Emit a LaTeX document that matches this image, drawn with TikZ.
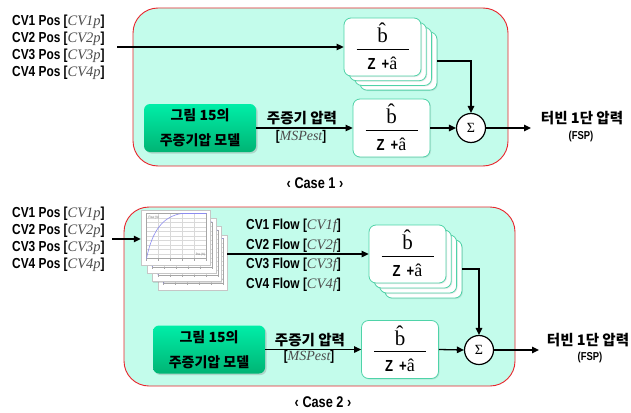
\documentclass[tikz,border=0pt]{standalone}
\usepackage{fontspec}
\setmainfont{Liberation Sans}[FakeStretch=0.82]
\newfontfamily\kr{Noto Sans CJK KR}
\newfontfamily\scr{Liberation Serif}
\usetikzlibrary{arrows.meta,shadows}

\definecolor{panelfill}{HTML}{C3FCEB}
\definecolor{paneledge}{HTML}{E8252C}
\definecolor{boxedge}{HTML}{4FD3A8}
\definecolor{gtop}{HTML}{00EEA8}
\definecolor{gbot}{HTML}{00B474}
\definecolor{curve}{HTML}{8C8CF0}

\tikzset{
  panel/.style={draw=paneledge, fill=panelfill, line width=0.9pt, rounded corners=25pt},
  fbox/.style={draw=boxedge, fill=white, line width=0.8pt, rounded corners=7pt,
    minimum width=77pt, minimum height=58pt, inner sep=0,
    drop shadow={opacity=0.18, shadow xshift=1pt, shadow yshift=-1pt}},
  model/.style={rounded corners=6pt, top color=gtop, bottom color=gbot,
    minimum width=112pt, minimum height=48pt, align=center, inner sep=0,
    font=\kr\bfseries\fontsize{14}{25}\selectfont,
    drop shadow={opacity=0.3, shadow xshift=1.5pt, shadow yshift=-1.5pt}},
  sumnode/.style={circle, draw, line width=1.2pt, fill=white, minimum size=29pt, inner sep=0,
    font=\scr\fontsize{14}{14}\selectfont},
  chartbox/.style={draw=gray!45, fill=white, line width=0.4pt,
    minimum width=69pt, minimum height=55pt, inner sep=0,
    drop shadow={opacity=0.25, shadow xshift=1pt, shadow yshift=-1pt}},
  charttxt/.style={font=\fontsize{3.2}{3.2}\selectfont, inner sep=0, text=gray!80!black},
  link/.style={line width=1.3pt, -{Triangle[length=7pt,width=6.5pt]}},
  lbl/.style={font=\bfseries\fontsize{14.5}{14.5}\selectfont, inner sep=0, anchor=west},
  krlbl/.style={font=\kr\bfseries\fontsize{14.5}{14.5}\selectfont, inner sep=0},
  small/.style={font=\bfseries\fontsize{11.5}{11.5}\selectfont, inner sep=0},
  varlbl/.style={font=\bfseries\fontsize{14}{14}\selectfont, inner sep=0},
  caselbl/.style={font=\bfseries\fontsize{15.5}{15.5}\selectfont, inner sep=0},
  numtxt/.style={font=\scr\fontsize{21}{21}\selectfont, inner sep=0},
  dentxt/.style={font=\bfseries\fontsize{16}{16}\selectfont, inner sep=0},
}

% italic variable names in brackets
\newcommand\vn[1]{{\scr\itshape\mdseries\color{black!70}#1}}

% transfer function box b^/(Z+a^)
\newcommand\fracbox[3]{%
  \node[fbox] (#1) at (#2,#3) {};
  \node[numtxt] (#1-num) at ([yshift=14pt]#1.center) {\^{b}};
  \draw[line width=0.6pt] ([xshift=-26pt,yshift=-2pt]#1.center) -- ([xshift=26pt,yshift=-2pt]#1.center);
  \node[dentxt] (#1-den) at ([yshift=-16pt]#1.center) {Z\hspace{6pt}+{\scr\mdseries\fontsize{18}{18}\selectfont\^{a}}};
}

% small valve characteristic chart
\newcommand\chart[3]{%
  \node[chartbox] (#1) at (#2,#3) {};
  \begin{scope}[shift={(#1.center)}]
    \foreach \gx in {-17,-5,7,19} {\draw[gray!30, line width=0.3pt] (\gx,-24) -- (\gx,21);}
    \foreach \gy in {-19.5,-15,-10.5,-6,-1.5,3,7.5,12,16.5} {\draw[gray!30, line width=0.3pt] (-29,\gy) -- (31,\gy);}
    \draw[gray!70, line width=0.4pt] (-29,-24) rectangle (31,21);
    \foreach \gx in {-29,-17,-5,7,19,31} {\draw[gray!70, line width=0.3pt] (\gx,21) -- (\gx,23);}
    \draw[curve, line width=0.6pt] (-29,21) .. controls (-23,-8) and (-12,-21) .. (6,-24) -- (31,-24);
    \node[charttxt, anchor=north west] at (-27,-22) {Flow (\%)};
    \node[charttxt, anchor=south east] at (30,19) {Pos (\%)};
  \end{scope}
}

\begin{document}
\begin{tikzpicture}[x=1pt,y=-1pt]
\useasboundingbox[fill=white] (0,0) rectangle (631,412);

% ---------------- Case 1 ----------------
\draw[panel] (133,8) rectangle (508,166);

\node[lbl] (p11) at (12,22) {CV1 Pos [\vn{CV1p}]};
\node[lbl] (p12) at (12,39) {CV2 Pos [\vn{CV2p}]};
\node[lbl] (p13) at (12,56) {CV3 Pos [\vn{CV3p}]};
\node[lbl] (p14) at (12,73) {CV4 Pos [\vn{CV4p}]};
\coordinate (in1) at (117,47);

\foreach \k in {3,2,1} {\node[fbox] (s1\k) at (382.5+5.3*\k, 47+4.7*\k) {};}
\fracbox{f1}{382.5}{47}
\fracbox{g1}{391.5}{128}

\node[model] (m1) at (200,128) {그림 15의\\주증기압 모델};
\node[sumnode] (sum1) at (471,128) {Σ};
\node[krlbl] (msp1) at (302,118) {주증기 압력};
\node[varlbl] (mspv1) at (301,137) {[\vn{MSPest}]};
\coordinate (out1) at (531,128);
\node[krlbl] (fsp1) at (582,118) {터빈 1단 압력};
\node[small] (fspv1) at (581,137) {(FSP)};

\draw[link] (in1) -- (f1.west);
\draw[link] (s13.east) -| (sum1.north);
\draw[link] (m1.east) -- (g1.west);
\draw[link] (g1.east) -- (sum1.west);
\draw[link] (sum1.east) -- (out1);

\node[caselbl] (case1) at (315,183) {‹ Case 1 ›};

% ---------------- Case 2 ----------------
\draw[panel] (124,207) rectangle (515,386);

\node[lbl] (p21) at (12,214) {CV1 Pos [\vn{CV1p}]};
\node[lbl] (p22) at (12,231) {CV2 Pos [\vn{CV2p}]};
\node[lbl] (p23) at (12,248) {CV3 Pos [\vn{CV3p}]};
\node[lbl] (p24) at (12,265) {CV4 Pos [\vn{CV4p}]};
\coordinate (in2) at (112,239);

\foreach \k in {3,2,1} {\chart{c2\k}{175.5+5.7*\k}{237.5+8.3*\k}}
\chart{c2}{175.5}{237.5}

\node[lbl] (q21) at (246,226) {CV1 Flow [\vn{CV1f}]};
\node[lbl] (q22) at (246,245.5) {CV2 Flow [\vn{CV2f}]};
\node[lbl] (q23) at (246,265) {CV3 Flow [\vn{CV3f}]};
\node[lbl] (q24) at (246,284.5) {CV4 Flow [\vn{CV4f}]};

\foreach \k in {3,2,1} {\node[fbox] (s2\k) at (407.5+5.3*\k, 254+5*\k) {};}
\fracbox{f2}{407.5}{254}
\fracbox{g2}{400}{349.5}

\node[model] (m2) at (209,349.5) {그림 15의\\주증기압 모델};
\node[sumnode] (sum2) at (479,350) {Σ};
\node[krlbl] (msp2) at (310,340) {주증기 압력};
\node[varlbl] (mspv2) at (309,357) {[\vn{MSPest}]};
\coordinate (out2) at (539,350);
\node[krlbl] (fsp2) at (588,340) {터빈 1단 압력};
\node[small] (fspv2) at (590,358) {(FSP)};

\draw[link] (in2) -- (c2.west |- in2);
\draw[link] (c23.east |- f2.west) -- (f2.west);
\draw[link] (s23.east) -| (sum2.north);
\draw[link] (m2.east) -- (g2.west);
\draw[link] (g2.east) -- (sum2.west);
\draw[link] (sum2.east) -- (out2);

\node[caselbl] (case2) at (323,402) {‹ Case 2 ›};
\end{tikzpicture}
\end{document}
